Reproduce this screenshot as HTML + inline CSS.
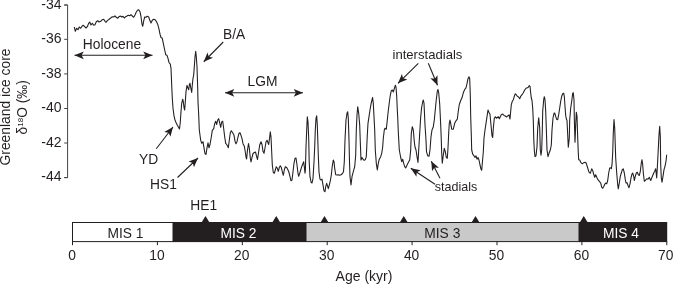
<!DOCTYPE html>
<html><head><meta charset="utf-8"><title>Greenland ice core</title>
<style>
html,body{margin:0;padding:0;background:#fff;}
svg{display:block;font-family:"Liberation Sans",sans-serif;fill:#231f20;}
</style></head><body>
<svg width="673" height="284" viewBox="0 0 673 284">
<rect width="673" height="284" fill="#fff"/>
<path d="M64.2 5 H67.6 V177.6 H64.2" fill="none" stroke="#444" stroke-width="1"/>
<line x1="64.2" x2="67.6" y1="5.0" y2="5.0" stroke="#444" stroke-width="1"/>
<text x="61.6" y="8.7" text-anchor="end" font-size="14">-34</text>
<line x1="64.2" x2="67.6" y1="39.3" y2="39.3" stroke="#444" stroke-width="1"/>
<text x="61.6" y="43.0" text-anchor="end" font-size="14">-36</text>
<line x1="64.2" x2="67.6" y1="73.9" y2="73.9" stroke="#444" stroke-width="1"/>
<text x="61.6" y="77.6" text-anchor="end" font-size="14">-38</text>
<line x1="64.2" x2="67.6" y1="108.5" y2="108.5" stroke="#444" stroke-width="1"/>
<text x="61.6" y="112.2" text-anchor="end" font-size="14">-40</text>
<line x1="64.2" x2="67.6" y1="143" y2="143" stroke="#444" stroke-width="1"/>
<text x="61.6" y="146.7" text-anchor="end" font-size="14">-42</text>
<line x1="64.2" x2="67.6" y1="177.6" y2="177.6" stroke="#444" stroke-width="1"/>
<text x="61.6" y="181.3" text-anchor="end" font-size="14">-44</text>
<path d="M74.3 27 L75.3 31.3 L76.7 28.3 L78 29.7 L79.3 27 L80.7 28.3 L82 26.3 L83.3 25.3 L84.7 26.7 L86 28 L87.3 26.7 L88.7 23.3 L89.7 22 L91 25 L92.3 23.3 L93.7 25.3 L95 24.7 L96.3 21.7 L97.7 20.7 L99 22 L100.7 21.3 L102.3 19.7 L103.7 19.2 L105 21.3 L106 22.3 L107.3 20.7 L109 19.3 L110.7 18 L112.3 16.7 L113.7 17 L115 15.8 L116.3 17.3 L117.7 18.3 L119 16.7 L120.3 16 L121.7 17 L123 16.3 L124.3 18 L125.7 16.7 L127 16 L128.3 15.3 L129.7 15.7 L131 14.7 L132.3 16 L133.7 17.3 L135 15 L136.3 12 L137.7 10 L138.7 9.7 L140 11.7 L141 16.7 L142 24.2 L142.7 26.3 L143.7 20.8 L144.7 17 L146 17.3 L147.3 16.3 L148.7 17 L150 20.8 L151 23 L152.3 20.3 L153.7 19.3 L155 19.7 L156.3 21.3 L157.7 24.2 L159 29.2 L160 34.2 L161 37.5 L162.3 38.3 L163.3 43.3 L164.7 50 L165.7 54.7 L167 55.3 L168 58.3 L169 62.5 L170.3 64.2 L171 68.3 L171.3 75 L171.7 85 L172.3 98.3 L173 108.3 L174 115.8 L175 120 L176 122.5 L177.5 125.5 L179.5 129 L180.3 122 L181 111.7 L181.7 103.3 L182.7 99.2 L183.3 101.7 L184 107.5 L184.7 110 L185.3 101.7 L186 91.7 L187 85.3 L188 88.3 L188.7 89.7 L189.3 85 L190 83.3 L190.7 87.5 L191.7 92.5 L192.3 85 L193 78.3 L193.7 75 L194.3 66.7 L195 56.7 L195.7 51.3 L196.3 56.7 L197 66.7 L197.7 88.3 L198 101.7 L198.7 115 L199.3 130 L200.7 140.3 L201.7 143.3 L203 141.7 L204 147.8 L205 153.7 L206 154.5 L207 147.8 L208 142.8 L209 147.8 L210 144.5 L211.3 137 L212.3 130.3 L213.7 128.7 L214.7 123.7 L215.7 121.2 L216.7 124.5 L217.7 120 L218.7 118.7 L219.7 122.8 L220.7 127.3 L221.7 122 L222.7 121.2 L223.7 128.7 L224.7 137 L225.7 143.3 L226.7 144.5 L227.7 146.2 L228.3 147.8 L229.3 140.3 L230.3 132.8 L231.3 130.7 L232.7 132.8 L234 135.3 L235 141.2 L236 143.7 L237 141.7 L238 137 L239 133.3 L240 132.8 L241 135.3 L242 138.7 L243 143.7 L244.3 146.2 L245.3 152 L246 157 L246.6 159 L247.5 150 L248.5 143.5 L249.3 148 L250.3 158 L251 162 L252 157.5 L253 153.5 L254.3 152.5 L255.5 152 L256.5 156 L257.5 159.5 L258.5 153 L259.7 145 L261 141.7 L262 144.5 L263 151.3 L264 153.3 L265 148 L266 142 L267 140.3 L268 142.8 L268.7 144.5 L269.7 137 L270.3 131.7 L271 137 L271.7 152 L272.3 165 L273.3 172.5 L274.3 173.3 L275.3 170 L276.3 166.7 L277.3 168.3 L278.3 171.3 L279.3 167.5 L280.3 165.8 L281.3 167.5 L282.3 171.7 L283.3 175.3 L284.3 170 L285.3 166.7 L286.7 167.5 L288 170 L289 172.5 L290 176.7 L291 180.8 L292 180 L293 171.7 L294 163.3 L295 158.3 L296 158 L297 165 L298 173.3 L298.7 176.3 L299.7 173.3 L300.7 170 L301.7 166.7 L302.7 164.2 L303.7 161.7 L304.3 166.7 L305 173.3 L305.4 170 L306 147 L306.7 130 L307.3 116.7 L308 121.7 L308.7 138.3 L309.2 161.7 L310 176.7 L311 182 L312 183 L313 178.3 L314 161.7 L314.7 147 L315.3 130 L316 118.3 L316.7 115.8 L317.3 125 L317.8 140 L318.3 155 L319 172 L320 179.2 L321 180 L322 179.2 L323 185 L324 190.8 L325 191.7 L325.7 186.7 L326.7 183.3 L327.7 186.7 L328.3 188.7 L329.3 185 L330.3 180.8 L331.3 175 L332.3 165.8 L333.3 160 L334 161.7 L334.7 168.3 L335.7 174.7 L337 175 L338.3 174.7 L339.7 175.3 L341 174.7 L342.3 173.7 L343.5 171.7 L344.3 161.7 L345 140 L346 120 L347 113.3 L347.7 111.7 L348.3 118.3 L349 140 L349.5 161.7 L350 176.7 L351 185 L352 176.7 L353.3 171.7 L354.7 166.7 L355.7 155 L356.3 130 L357 115 L357.7 106.7 L358.7 113.3 L359.7 125 L360.3 142 L361 160 L362 157.5 L363 159.2 L364 160.3 L365.3 159.7 L366.3 156.7 L367.3 135 L368 123.3 L369 116.7 L370 110 L371 104.2 L372 100 L372.6 97.5 L373.3 103.3 L374 116.7 L374.7 130 L375.3 150 L376.3 163.3 L377.3 170 L378.3 163.3 L379.3 159.2 L380.7 156.7 L381.7 153.3 L382.7 147 L383.3 138.3 L384.3 130 L385 128.3 L386.3 129.2 L387.3 120 L388.3 110.5 L389.3 102.5 L390.3 95.3 L391.3 90.7 L392.3 90 L393.3 92 L394.3 88.7 L395.3 85.3 L396 87 L396.7 96 L397.3 110 L397.7 117 L398.3 132 L399.3 150 L400.7 157.5 L401.7 161.7 L402.7 159.2 L403.7 163.3 L404.7 166.7 L405.7 168 L406.7 165.8 L408.3 162.5 L409.7 160 L410.7 150 L411.3 133.3 L412.3 126.7 L413.3 130 L414.3 141.7 L415 147 L416 150 L417 156.7 L418 162.5 L418.7 150 L419.7 133.3 L420.7 116.7 L421.7 107 L422.7 102 L423.3 100 L424 103 L425 125 L426 140 L426.5 151.7 L427.7 155.8 L429 156.3 L430 150 L431 136.7 L432 130 L433.3 126.7 L434.3 120 L435.3 109.5 L436.3 99.5 L437.3 91.2 L438 89.5 L438.7 92.8 L439.7 104 L440.7 125 L441.3 140 L441.7 153.3 L442.3 163.3 L443.3 155 L444.3 148.3 L445.3 151.7 L446.3 157.5 L447.3 158.3 L448 148 L448.7 133.3 L449.3 123.3 L450 120 L450.7 123.3 L451.7 129.2 L453.3 129.2 L454.7 123.3 L456 120.8 L457.3 119.2 L458.3 111 L459.3 104.5 L460.7 100.5 L462 97.8 L463.3 92.8 L464.7 89.5 L466 87.8 L467 83.7 L468 78.7 L469 76.7 L469.7 78.7 L470.3 95 L470.7 116.7 L471.3 135 L471.7 150 L472.7 154.2 L474 155.8 L475 157.5 L476 155.8 L477 159.2 L478 157.5 L479 160 L480 165 L481 169.2 L481.7 170.3 L482.3 163.3 L483.3 152 L484 138 L485 130 L486 123.3 L487 116.7 L488 110 L489 112.5 L490 114.2 L491 125 L492 135.8 L492.7 137.5 L493.3 128.3 L494.3 118.3 L495.3 116.7 L496.3 118.3 L497.3 117.5 L498.3 116.7 L499.3 118.7 L500.3 116.7 L501.3 114.7 L502.7 114 L504 115.4 L505.3 116 L506.7 117 L508 115.6 L509 114.8 L510 119 L510.7 111.3 L511.3 104.7 L512.3 101.3 L513.3 99.7 L514.3 96.3 L515.3 93.8 L516.3 94.7 L517.3 96.3 L518.3 96.7 L519.7 98.8 L520.7 96.3 L522 94.7 L523.3 92.7 L524.7 90 L526 88.3 L527.3 87.7 L528.3 87.2 L529.3 85.5 L530 86.3 L530.7 93 L531.3 98 L532 100.5 L532.7 108 L533.3 121 L533.8 140 L534.3 150 L535 156.7 L536 155.8 L537 146.7 L537.7 128 L538.7 117.7 L539.7 128 L540.3 150 L541 155.3 L541.7 150 L542.3 130 L542.7 111.3 L543.7 99.7 L544.3 96.7 L545 99.7 L545.7 111.3 L546.3 128 L547 150 L548 156.7 L549 153.3 L550.3 150 L551.3 145 L552 130 L553 118 L554 113.3 L554.7 113 L555.7 116.3 L556.7 119.3 L557.7 119.7 L558.7 114.7 L559.7 108 L560.7 101.3 L561.7 96.3 L562.7 93.8 L563.7 93.3 L564.3 96.3 L565 106.3 L565.7 115.5 L566.3 118.8 L567 120.5 L567.7 134.7 L568.3 147.2 L569.3 138 L569.7 120 L570.7 108 L571.7 101.3 L572.7 93.3 L573.3 92.7 L574 99.7 L574.3 118 L575 142.2 L575.7 124.7 L576.3 112.2 L577 116 L577.7 138 L578.3 153 L578.7 159.7 L579.7 160 L581 162.7 L582.3 163.8 L583.7 162.7 L585 162.3 L586.3 163.3 L587.7 168 L589 172.2 L590.3 173.3 L591.7 168.8 L592.7 170.5 L593.7 174.3 L594.7 177.2 L595.7 174.7 L596.7 177.2 L598 179.7 L599.3 181.3 L600.7 183 L601.7 187.2 L602.7 188.3 L603.7 186.7 L604.7 184.3 L605.7 183 L606.7 183.8 L607.7 180.5 L608.7 173 L609.7 168 L610.7 167.7 L611.3 168.8 L612 164.7 L612.7 153 L613.3 133 L614 119.5 L614.7 128 L615.3 146 L615.7 158 L616.7 173 L617.7 184.7 L618.3 188.8 L619.3 183 L620.3 176.3 L621.3 173 L622.3 169.7 L623.3 168.8 L624.3 173 L625.3 179.7 L626 183 L627 182.7 L628 185.5 L629 187.7 L630 183.8 L631 178 L632 173.8 L632.7 173 L633.7 176.3 L634.3 180.5 L635.3 176.3 L636.3 173 L637.3 172.2 L638.3 174.7 L639.3 175.5 L640.3 171.3 L641.3 163 L642 159.7 L642.7 164.7 L643.3 173 L644.3 181.3 L645.3 180.5 L646.7 178.8 L648 179.3 L649.3 177.2 L650.7 180.5 L651.7 178 L652.7 175.5 L653.7 173 L654.7 171.3 L655.7 168.8 L656.7 178 L657.3 168 L658 154.7 L659 134.7 L659.7 126.3 L660.3 136.3 L660.7 164.7 L661.3 178 L662 182.2 L663 176.3 L664 169.7 L665 166.3 L666 161.3 L666.7 154.7" fill="none" stroke="#231f20" stroke-width="1.08" stroke-linejoin="round"/>
<line x1="74.5" y1="55.3" x2="152.5" y2="55.3" stroke="#231f20" stroke-width="1.08"/><path d="M152.50 55.30 L143.20 59.20 L145.40 55.30 L143.20 51.40 Z" fill="#231f20"/><path d="M74.50 55.30 L83.80 51.40 L81.60 55.30 L83.80 59.20 Z" fill="#231f20"/>
<text x="82.8" y="48.8" font-size="13.8">Holocene</text>
<line x1="225" y1="92.8" x2="303" y2="92.8" stroke="#231f20" stroke-width="1.08"/><path d="M303.00 92.80 L293.70 96.70 L295.90 92.80 L293.70 88.90 Z" fill="#231f20"/><path d="M225.00 92.80 L234.30 88.90 L232.10 92.80 L234.30 96.70 Z" fill="#231f20"/>
<text x="247.5" y="86.3" font-size="13.8">LGM</text>
<line x1="223.25" y1="42" x2="203.75" y2="61.75" stroke="#231f20" stroke-width="1.08"/><path d="M203.75 61.75 L207.51 52.39 L208.74 56.70 L213.06 57.87 Z" fill="#231f20"/>
<text x="223" y="39.1" font-size="13.8">B/A</text>
<line x1="156.25" y1="148.75" x2="173" y2="127" stroke="#231f20" stroke-width="1.08"/><path d="M173.00 127.00 L170.42 136.75 L168.67 132.63 L164.24 131.99 Z" fill="#231f20"/>
<text x="139" y="163.8" font-size="13.8">YD</text>
<line x1="177.5" y1="177.5" x2="198" y2="158" stroke="#231f20" stroke-width="1.08"/><path d="M198.00 158.00 L193.95 167.24 L192.86 162.89 L188.57 161.58 Z" fill="#231f20"/>
<text x="150" y="189.3" font-size="13.8">HS1</text>
<text x="190.3" y="210" font-size="13.8">HE1</text>
<line x1="418.3" y1="63.3" x2="398" y2="83.3" stroke="#231f20" stroke-width="1.08"/><path d="M398.00 83.30 L401.89 73.99 L403.06 78.32 L407.36 79.55 Z" fill="#231f20"/>
<line x1="428.3" y1="63.3" x2="437.5" y2="85.3" stroke="#231f20" stroke-width="1.08"/><path d="M437.50 85.30 L430.31 78.22 L434.76 78.75 L437.51 75.22 Z" fill="#231f20"/>
<text x="392.5" y="58.8" font-size="13.1">interstadials</text>
<line x1="435" y1="184.2" x2="410.8" y2="168.3" stroke="#231f20" stroke-width="1.08"/><path d="M410.80 168.30 L420.71 170.15 L416.73 172.20 L416.43 176.67 Z" fill="#231f20"/>
<line x1="440" y1="178.3" x2="431.3" y2="161.2" stroke="#231f20" stroke-width="1.08"/><path d="M431.30 161.20 L438.99 167.72 L434.52 167.53 L432.04 171.26 Z" fill="#231f20"/>
<text x="434.8" y="190.6" font-size="13" textLength="42.5" lengthAdjust="spacingAndGlyphs">stadials</text>
<rect x="72.5" y="222.5" width="100.5" height="19.1" fill="#fff" stroke="#231f20" stroke-width="1"/>
<rect x="173" y="222" width="133" height="20.1" fill="#231f20"/>
<rect x="306" y="222.5" width="273" height="19.1" fill="#c9c9c9" stroke="#231f20" stroke-width="1"/>
<rect x="579" y="222" width="88.2" height="20.1" fill="#231f20"/>
<path d="M201.5 222.5 L205.5 216 L209.5 222.5 Z" fill="#231f20"/>
<path d="M272.25 222.5 L276.25 216 L280.25 222.5 Z" fill="#231f20"/>
<path d="M320.5 222.5 L324.5 216 L328.5 222.5 Z" fill="#231f20"/>
<path d="M399.75 222.5 L403.75 216 L407.75 222.5 Z" fill="#231f20"/>
<path d="M471.5 222.5 L475.5 216 L479.5 222.5 Z" fill="#231f20"/>
<path d="M579.75 222.5 L583.75 216 L587.75 222.5 Z" fill="#231f20"/>
<line x1="72.5" x2="72.5" y1="241.5" y2="245.2" stroke="#231f20" stroke-width="1"/>
<text x="72.0" y="260" text-anchor="middle" font-size="13.8">0</text>
<line x1="157.4" x2="157.4" y1="241.5" y2="245.2" stroke="#231f20" stroke-width="1"/>
<text x="156.9" y="260" text-anchor="middle" font-size="13.8">10</text>
<line x1="242.3" x2="242.3" y1="241.5" y2="245.2" stroke="#231f20" stroke-width="1"/>
<text x="241.8" y="260" text-anchor="middle" font-size="13.8">20</text>
<line x1="327.20000000000005" x2="327.20000000000005" y1="241.5" y2="245.2" stroke="#231f20" stroke-width="1"/>
<text x="326.70000000000005" y="260" text-anchor="middle" font-size="13.8">30</text>
<line x1="412.1" x2="412.1" y1="241.5" y2="245.2" stroke="#231f20" stroke-width="1"/>
<text x="411.6" y="260" text-anchor="middle" font-size="13.8">40</text>
<line x1="497.0" x2="497.0" y1="241.5" y2="245.2" stroke="#231f20" stroke-width="1"/>
<text x="496.5" y="260" text-anchor="middle" font-size="13.8">50</text>
<line x1="581.9000000000001" x2="581.9000000000001" y1="241.5" y2="245.2" stroke="#231f20" stroke-width="1"/>
<text x="581.4000000000001" y="260" text-anchor="middle" font-size="13.8">60</text>
<line x1="666.8000000000001" x2="666.8000000000001" y1="241.5" y2="245.2" stroke="#231f20" stroke-width="1"/>
<text x="665.8" y="260" text-anchor="middle" font-size="13.8">70</text>
<text x="125.5" y="237.5" text-anchor="middle" font-size="13.8">MIS 1</text>
<text x="238.5" y="237.5" text-anchor="middle" font-size="13.8" fill="#fff">MIS 2</text>
<text x="442.3" y="237.5" text-anchor="middle" font-size="13.8">MIS 3</text>
<text x="621" y="237.5" text-anchor="middle" font-size="13.8" fill="#fff">MIS 4</text>
<text x="364" y="280.8" text-anchor="middle" font-size="14">Age (kyr)</text>
<text transform="translate(10.1 107) rotate(-90)" text-anchor="middle" font-size="13.85">Greenland ice core</text>
<text transform="translate(27.2 107.3) rotate(-90)" text-anchor="middle" font-size="13.8">δ<tspan font-size="8" dy="-4.5">18</tspan><tspan dy="4.5">O (‰)</tspan></text>
</svg>
</body></html>
